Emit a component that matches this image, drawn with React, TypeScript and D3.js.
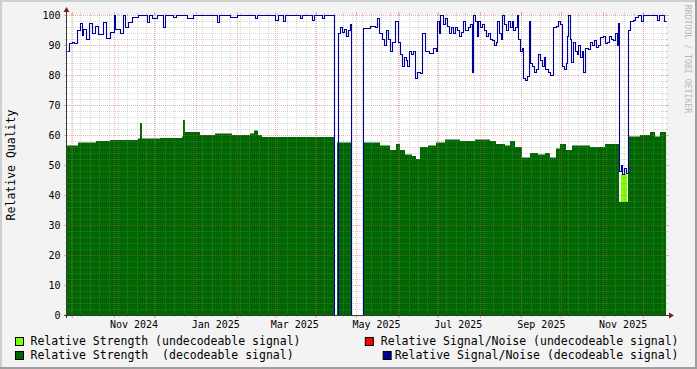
import React from 'react'
import * as d3 from 'd3'

// time axis: day offsets from this start date
const startDate = Date.UTC(2024, 8, 27)
const spanDays = 447
const DAY = 86400000

// Relative Signal/Noise (decodeable signal)
const snDays = [
  0, 1.5, 3.7, 5.2, 7.5, 9.7, 11.2, 12, 14.2, 16.4, 18.7, 20.9, 23.1, 26.9, 29.1, 32.1, 35.1, 35.8, 39.6, 41.8,
  43.3, 45.5, 48.5, 53, 59.7, 61.2, 63.4, 67.2, 71.6, 73.1, 79.1, 81.3, 89.6, 94, 111.9, 113.4, 121.6, 126.9, 140.3, 141.8,
  155.2, 157.5, 161.2, 162.7, 173.9, 175.4, 182.8, 184.3, 190.3, 191.8, 199.3, 202.2, 203.7, 205.2, 206.7, 208.2, 209.7, 211.2, 212, 220.9,
  226.1, 229.9, 231.3, 232.8, 235.1, 236.6, 238.1, 239.6, 241, 242.5, 244.8, 247, 248.5, 250, 251.5, 253, 253.7, 255.2, 256.7, 258.2,
  259.7, 261.2, 263.4, 264.9, 267.2, 270.1, 273.1, 275.4, 276.1, 277.6, 278.4, 280.6, 282.1, 283.6, 285.1, 286.6, 288.1, 289.6, 291, 292.5,
  294, 295.5, 297, 299.3, 300.7, 302.2, 303, 304.5, 306, 306.7, 308.2, 309.7, 311.2, 312.7, 314.2, 315.7, 317.2, 318.7, 320.1, 320.9,
  322.4, 323.9, 324.6, 326.1, 327.6, 329.1, 330.6, 332.1, 332.8, 334.3, 335.8, 336.6, 338.1, 339.6, 340.3, 341.8, 343.3, 344.8, 345.5, 347,
  348.5, 350, 351.5, 353, 354.5, 356, 356.7, 358.9, 360.4, 362.7, 364.9, 366.4, 367.9, 369.4, 370.9, 372.4, 373.1, 373.9, 375.4, 376.1,
  377.6, 379.1, 380.6, 381.3, 382.8, 384.3, 385.1, 386.6, 388.8, 390.3, 391.8, 393.3, 394.8, 396.3, 397.8, 400, 401.5, 403, 404.5, 406,
  407.5, 409, 410.4, 411.2, 411.9, 413.4, 414.2, 415.7, 417.2, 418.7, 420.1, 422.4, 423.9, 426.1, 428.4, 429.9, 440.3, 441.8, 445.5,
]
const snValues = [
  88, 90.5, 91, 90.7, 95, 97.5, 93.3, 95.5, 92, 97.5, 94, 96.5, 93.5, 97.7, 92.2, 94.5, 100, 95.5, 94, 100,
  96, 97.7, 99.5, 100, 97.7, 100, 99, 100, 96, 100, 99.5, 100, 99, 100, 97.7, 100, 99.5, 100, 99, 100,
  98.5, 100, 98, 100, 99, 100, 98.5, 100, 99, 100, 0, 94, 96, 94.5, 95.5, 93, 95, 97, 0, 95.7,
  96.5, 96, 99, 94, 92, 90, 95, 92, 88, 91, 98, 91, 87, 83, 86, 85, 83, 88, 87, 88,
  79, 81, 80.5, 94, 88, 87.5, 89, 88, 98, 94, 100, 97, 99, 96.5, 94, 96, 94, 96, 95, 93,
  94.5, 98, 95, 96, 97, 81, 100, 98, 93, 98, 96, 97, 95, 93, 94, 92, 91.5, 90, 91, 98,
  94, 92, 100, 97, 95, 98, 96, 98, 95, 96, 100, 92, 88, 89, 79, 78.5, 79.5, 98, 84, 83,
  81, 82, 87, 85, 83, 86, 82, 81, 80, 96, 96.5, 98, 97, 83, 82, 84, 93, 100, 92, 84.5,
  91, 88, 87, 90, 86, 88, 81, 89, 88.5, 91, 90, 91.5, 89.5, 90, 92.5, 93, 90.5, 91, 93, 92,
  91.5, 94, 90, 97.5, 48, 50, 47, 49, 47.5, 95, 98, 98.5, 99.5, 100, 98, 100, 98.5, 100, 98,
]

// Relative Strength (decodeable signal)
const strDays = [
  0, 8.2, 21.6, 32.1, 53, 54.5, 55.6, 69.4, 85.8, 86.6, 87.7, 99.3, 110.4, 123.1, 136.6, 139.6, 142.5, 145.5, 199.3, 201.5,
  212, 220.9, 233.6, 241, 245.5, 248.5, 252.2, 257.5, 260.4, 263.4, 269.4, 275.4, 282.1, 293.3, 304.5, 315.7, 320.1, 326.9, 330.6, 334.3,
  339.6, 345.5, 351.5, 356.7, 360.4, 364.9, 367.9, 372.4, 376.9, 390.3, 401.5, 411.9, 418.7, 427.6, 435.1, 438.8, 442.5,
]
const strValues = [
  56.5, 57.5, 58, 58.3, 58.8, 64, 58.8, 59, 59.5, 65, 61, 60, 60.5, 60, 60.5, 61.5, 60, 59.3, 0, 57.5,
  0, 57.5, 56.5, 55, 57, 55, 53.5, 53, 52, 56, 56.5, 57.5, 58.5, 58, 58.5, 58, 57, 56.5, 58, 56,
  52.5, 54, 53.5, 54, 52.5, 55.5, 57, 55, 56.5, 56, 57, 37.7, 59.5, 60, 61, 59.5, 61,
]

// Relative Strength (undecodeable signal)
const strUndecDays = [0, 413.4, 418]
const strUndecValues = [0, 47, 0]

const yTicks = [0, 10, 20, 30, 40, 50, 60, 70, 80, 90, 100]
const xLabelMonths = ['2024-11', '2025-01', '2025-03', '2025-05', '2025-07', '2025-09', '2025-11']

const legendLeft = [
  { label: 'Relative Strength (undecodeable signal)', color: '#80ff00' },
  { label: 'Relative Strength  (decodeable signal)', color: '#006600' },
]
const legendRight = [
  { label: 'Relative Signal/Noise (undecodeable signal)', color: '#ff0000' },
  { label: 'Relative Signal/Noise (decodeable signal)', color: '#000099' },
]

const W = 697
const H = 369
const left = 67
const right = 666
const top = 15
const bottom = 315
const mono = '"DejaVu Sans Mono", monospace'

const toDate = (d: number) => new Date(startDate + d * DAY)
const pairs = (days: number[], vals: number[]) => {
  const p = days.map((d, i) => [d, vals[i]] as [number, number])
  p.push([spanDays, vals[vals.length - 1]])
  return p
}

export default function App() {
  const x = d3.scaleUtc().domain([toDate(0), toDate(spanDays)]).range([left, right])
  const y = d3.scaleLinear().domain([0, 100]).range([bottom, top])

  const px = (d: [number, number]) => Math.round(x(toDate(d[0])))
  const area = d3.area<[number, number]>()
    .x(px)
    .y0(bottom)
    .y1(d => y(d[1]))
    .curve(d3.curveStepAfter)
  const line = d3.line<[number, number]>()
    .x(d => px(d) + 0.5)
    .y(d => Math.round(y(d[1])) + 0.5)
    .curve(d3.curveStepAfter)

  const months = d3.utcMonth.range(toDate(0), toDate(spanDays))
  const weeks = d3.utcMonday.range(toDate(0), toDate(spanDays))
  const minorY = d3.range(2, 100, 2).filter(v => v % 10 !== 0)

  const fmt = d3.utcFormat('%b %Y')
  const parseM = d3.utcParse('%Y-%m')

  const gridMinor = 'rgba(143,143,143,0.35)'
  const gridMajor = 'rgba(222,80,80,0.45)'

  return (
    <div>
      <style>{'body{margin:0}'}</style>
      <svg width={W} height={H} style={{ display: 'block' }}>
        <rect width={W} height={H} fill="#f3f3f3" />
        <rect x={0} y={0} width={W} height={2} fill="#cfcfcf" />
        <rect x={0} y={0} width={2} height={H} fill="#cfcfcf" />
        <rect x={0} y={H - 2} width={W} height={2} fill="#9e9e9e" />
        <rect x={W - 2} y={0} width={2} height={H} fill="#9e9e9e" />

        <rect x={left} y={top} width={right - left} height={bottom - top} fill="#ffffff" />

        <path d={area(pairs(strUndecDays, strUndecValues)) || ''} fill="#80ff00" />
        <path d={area(pairs(strDays, strValues)) || ''} fill="#006600" />

        {/* grid */}
        <g shapeRendering="crispEdges">
          {minorY.map(v => {
            const yy = Math.round(y(v)) + 0.5
            return (
              <g key={'my' + v}>
                <line x1={left} x2={right} y1={yy} y2={yy} stroke={gridMinor} strokeDasharray="1,1" />
                <line x1={left - 2} x2={left} y1={yy} y2={yy} stroke={gridMinor} />
                <line x1={right} x2={right + 2} y1={yy} y2={yy} stroke={gridMinor} />
              </g>
            )
          })}
          {weeks.map(w => {
            const xx = Math.round(x(w)) + 0.5
            return (
              <g key={'mx' + w.getTime()}>
                <line x1={xx} x2={xx} y1={top} y2={bottom} stroke={gridMinor} strokeDasharray="1,1" />
                <line x1={xx} x2={xx} y1={bottom} y2={bottom + 2} stroke={gridMinor} />
                <line x1={xx} x2={xx} y1={top - 2} y2={top} stroke={gridMinor} />
              </g>
            )
          })}
          {yTicks.map(v => {
            const yy = Math.round(y(v)) + 0.5
            return (
              <g key={'My' + v}>
                <line x1={left} x2={right} y1={yy} y2={yy} stroke={gridMajor} strokeDasharray="1,1" />
                <line x1={left - 3} x2={left} y1={yy} y2={yy} stroke={gridMajor} />
                <line x1={right} x2={right + 3} y1={yy} y2={yy} stroke={gridMajor} />
              </g>
            )
          })}
          {months.map(m => {
            const xx = Math.round(x(m)) + 0.5
            return (
              <g key={'Mx' + m.getTime()}>
                <line x1={xx} x2={xx} y1={top} y2={bottom} stroke={gridMajor} strokeDasharray="1,1" />
                <line x1={xx} x2={xx} y1={bottom} y2={bottom + 3} stroke={gridMajor} />
                <line x1={xx} x2={xx} y1={top - 3} y2={top} stroke={gridMajor} />
              </g>
            )
          })}
        </g>

        <path d={line(pairs(snDays, snValues)) || ''} fill="none" stroke="#000099" strokeWidth={1.1} />

        {/* axes */}
        <g shapeRendering="crispEdges" stroke="#3a3a3a">
          <line x1={left - 0.5} x2={left - 0.5} y1={bottom + 3} y2={top - 5} />
          <line x1={left - 3} x2={right + 4} y1={bottom + 0.5} y2={bottom + 0.5} />
        </g>
        <path d={`M${left - 3.5},${top - 3} L${left - 0.5},${top - 8} L${left + 2.5},${top - 3} Z`} fill="#7f1f1f" />
        <path d={`M${right + 3},${bottom - 2.5} L${right + 8},${bottom + 0.5} L${right + 3},${bottom + 3.5} Z`} fill="#7f1f1f" />

        {/* tick labels */}
        <g fontFamily={mono} fontSize={10} fill="#000">
          {yTicks.map(v => (
            <text key={'yl' + v} x={60.5} y={y(v) + 3.6} textAnchor="end">{v}</text>
          ))}
          {xLabelMonths.map(m => {
            const d = parseM(m) as Date
            return (
              <text key={'xl' + m} x={x(d3.utcDay.offset(d, 15))} y={327.5} textAnchor="middle">{fmt(d)}</text>
            )
          })}
        </g>

        <text
          transform={`translate(15,${(top + bottom) / 2}) rotate(-90)`}
          textAnchor="middle"
          fontFamily={mono}
          fontSize={11.5}
          fill="#000"
        >Relative Quality</text>

        <text
          transform={`translate(685,59) rotate(90)`}
          textAnchor="middle"
          fontFamily={mono}
          fontSize={8.2}
          fill="#b8b8b8"
        >RRDTOOL / TOBI OETIKER</text>

        {/* legend */}
        <g fontFamily={mono} fontSize={11.5} fill="#000">
          {legendLeft.map((l, i) => (
            <g key={'ll' + i}>
              <rect x={15.5} y={337.5 + i * 14} width={8} height={8} fill={l.color} stroke="#000" />
              <text x={30.5} y={345 + i * 14} xmlSpace="preserve">{l.label}</text>
            </g>
          ))}
          {legendRight.map((l, i) => {
            const tw = l.label.length * 0.602 * 11.5
            return (
              <g key={'lr' + i}>
                <rect x={678.5 - tw - (i === 0 ? 15.5 : 11.5)} y={337.5 + i * 14} width={8} height={8} fill={l.color} stroke="#000" />
                <text x={678.5} y={345 + i * 14} textAnchor="end" xmlSpace="preserve">{l.label}</text>
              </g>
            )
          })}
        </g>
      </svg>
    </div>
  )
}
